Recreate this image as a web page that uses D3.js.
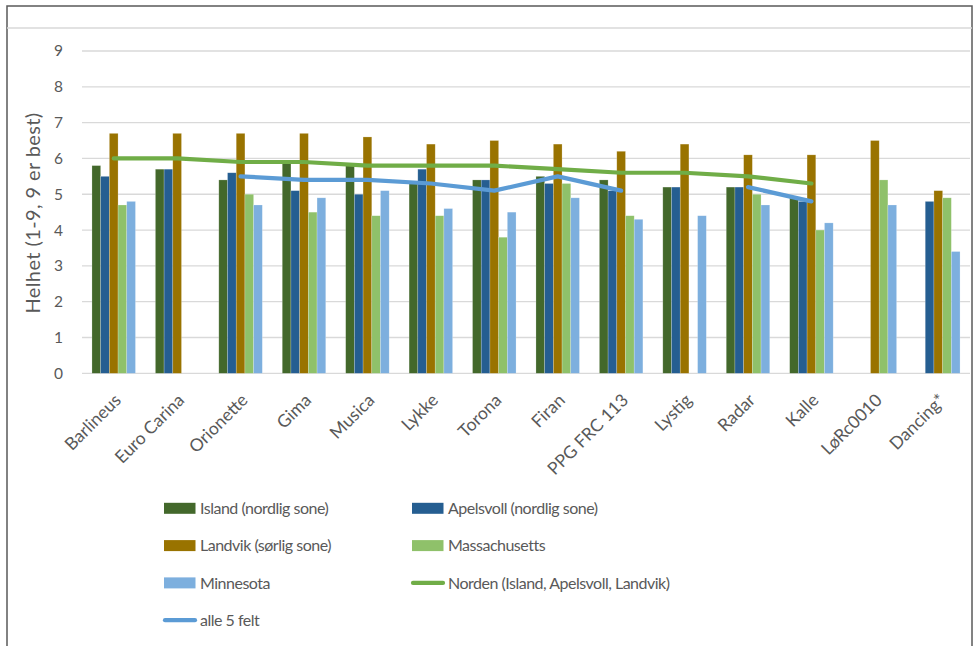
<!DOCTYPE html>
<html><head><meta charset="utf-8">
<script src="https://cdn.jsdelivr.net/npm/d3@7"></script>
<style>
body{margin:0;background:#fff;}
text{font-family:Lato,"Liberation Sans",sans-serif;fill:#595959;}
</style></head>
<body><svg id="c" width="979" height="646"></svg>
<script>
const categories = ["Barlineus","Euro Carina","Orionette","Gima","Musica","Lykke","Torona","Firan","PPG FRC 113","Lystig","Radar","Kalle","LøRc0010","Dancing*"];
const island      = [5.8,5.7,5.4,5.9,5.8,5.3,5.4,5.5,5.4,5.2,5.2,4.9,null,null];
const apelsvoll   = [5.5,5.7,5.6,5.1,5.0,5.7,5.4,5.3,5.1,5.2,5.2,4.8,null,4.8];
const landvik     = [6.7,6.7,6.7,6.7,6.6,6.4,6.5,6.4,6.2,6.4,6.1,6.1,6.5,5.1];
const massachusetts = [4.7,null,5.0,4.5,4.4,4.4,3.8,5.3,4.4,null,5.0,4.0,5.4,4.9];
const minnesota   = [4.8,null,4.7,4.9,5.1,4.6,4.5,4.9,4.3,4.4,4.7,4.2,4.7,3.4];
const norden      = [6.0,6.0,5.9,5.9,5.8,5.8,5.8,5.7,5.6,5.6,5.5,5.3,null,null];
const alle5       = [null,null,5.5,5.4,5.4,5.3,5.1,5.5,5.1,null,5.2,4.8,null,null];
const yTicks = [0,1,2,3,4,5,6,7,8,9];

const barSeries = [
  {name:"Island (nordlig sone)", values:island, color:"#43682B"},
  {name:"Apelsvoll (nordlig sone)", values:apelsvoll, color:"#255E91"},
  {name:"Landvik (sørlig sone)", values:landvik, color:"#997300"},
  {name:"Massachusetts", values:massachusetts, color:"#8FC16A"},
  {name:"Minnesota", values:minnesota, color:"#7DAFDE"}
];
const lineSeries = [
  {name:"Norden (Island, Apelsvoll, Landvik)", values:norden, color:"#70AD47"},
  {name:"alle 5 felt", values:alle5, color:"#5B9BD5"}
];

const svg = d3.select("#c");
// chart frame
svg.append("rect").attr("x",7).attr("y",6).attr("width",965).attr("height",660)
  .attr("fill","#fff").attr("stroke","#5a5a5a").attr("stroke-width",1.5);
svg.append("line").attr("x1",7).attr("x2",972).attr("y1",28).attr("y2",28)
  .attr("stroke","#d9d9d9").attr("stroke-width",1.5);

const left=82, right=970;
const y = d3.scaleLinear().domain([0,9]).range([373.3,51]);
const x = d3.scaleBand().domain(categories).range([left,right]).padding(0);
const groupW = 43.5;
const xs = d3.scaleBand().domain(barSeries.map(s=>s.name))
  .range([(x.bandwidth()-groupW)/2,(x.bandwidth()+groupW)/2]).padding(0);

// gridlines
svg.append("g").selectAll("line").data(yTicks).join("line")
  .attr("x1",left).attr("x2",right)
  .attr("y1",d=>y(d)).attr("y2",d=>y(d))
  .attr("stroke","#d9d9d9").attr("stroke-width",1.3);

// y axis labels
const yAxis = d3.axisLeft(y).tickValues(yTicks).tickSize(0).tickPadding(0);
const gy = svg.append("g").attr("transform","translate(63,0)").call(yAxis);
gy.select(".domain").remove();
gy.selectAll("text").style("font-size","15.5px").attr("fill","#595959")
  .style("font-family","Lato, 'Liberation Sans', sans-serif");

svg.append("text").attr("transform","translate(40,213) rotate(-90)")
  .attr("text-anchor","middle").style("font-size","20px").style("letter-spacing","0.4px")
  .text("Helhet (1-9, 9 er best)");

// bars
barSeries.forEach(s=>{
  svg.append("g").selectAll("rect")
    .data(categories.map((c,i)=>({c,v:s.values[i]})).filter(d=>d.v!=null))
    .join("rect")
    .attr("x",d=>x(d.c)+xs(s.name))
    .attr("width",xs.bandwidth())
    .attr("y",d=>y(d.v))
    .attr("height",d=>y(0)-y(d.v))
    .attr("fill",s.color)
    .attr("stroke","#ffffff").attr("stroke-opacity",0.35).attr("stroke-width",0.6);
});

// lines
lineSeries.forEach(s=>{
  const line = d3.line().defined(d=>d.v!=null)
    .x(d=>x(d.c)+x.bandwidth()/2).y(d=>y(d.v));
  svg.append("path").datum(categories.map((c,i)=>({c,v:s.values[i]})))
    .attr("d",line).attr("fill","none").attr("stroke",s.color)
    .attr("stroke-width",4.2).attr("stroke-linecap","round").attr("stroke-linejoin","round");
});

// x axis labels
const xAxis = d3.axisBottom(x).tickSize(0).tickPadding(0);
const gx = svg.append("g").call(xAxis);
gx.select(".domain").remove();
gx.selectAll(".tick").attr("transform",d=>`translate(${x(d)+x.bandwidth()/2+4},397)`);
gx.selectAll("text").attr("y",0).attr("dy","0.35em").attr("x",0)
  .attr("text-anchor","end").attr("transform","rotate(-45)")
  .style("font-size","17.5px").attr("fill","#595959")
  .style("font-family","Lato, 'Liberation Sans', sans-serif");

// legend
const legendItems = [
  {s:barSeries[0],type:"bar",col:0,row:0},
  {s:barSeries[1],type:"bar",col:1,row:0},
  {s:barSeries[2],type:"bar",col:0,row:1},
  {s:barSeries[3],type:"bar",col:1,row:1},
  {s:barSeries[4],type:"bar",col:0,row:2},
  {s:lineSeries[0],type:"line",col:1,row:2},
  {s:lineSeries[1],type:"line",col:0,row:3}
];
const colX=[164,412], rowY0=508.3, rowH=37.3;
const lg = svg.append("g");
legendItems.forEach(it=>{
  const gx0 = colX[it.col], cy = rowY0+it.row*rowH;
  if(it.type==="bar"){
    lg.append("rect").attr("x",gx0).attr("y",cy-5.5).attr("width",31.5).attr("height",11).attr("fill",it.s.color);
  } else {
    lg.append("line").attr("x1",gx0+1).attr("x2",gx0+31).attr("y1",cy).attr("y2",cy)
      .attr("stroke",it.s.color).attr("stroke-width",4.2).attr("stroke-linecap","round");
  }
  lg.append("text").attr("x",gx0+36).attr("y",cy).attr("dy","0.35em")
    .style("font-size","16px").style("letter-spacing","-0.5px").text(it.s.name);
});
</script></body></html>
